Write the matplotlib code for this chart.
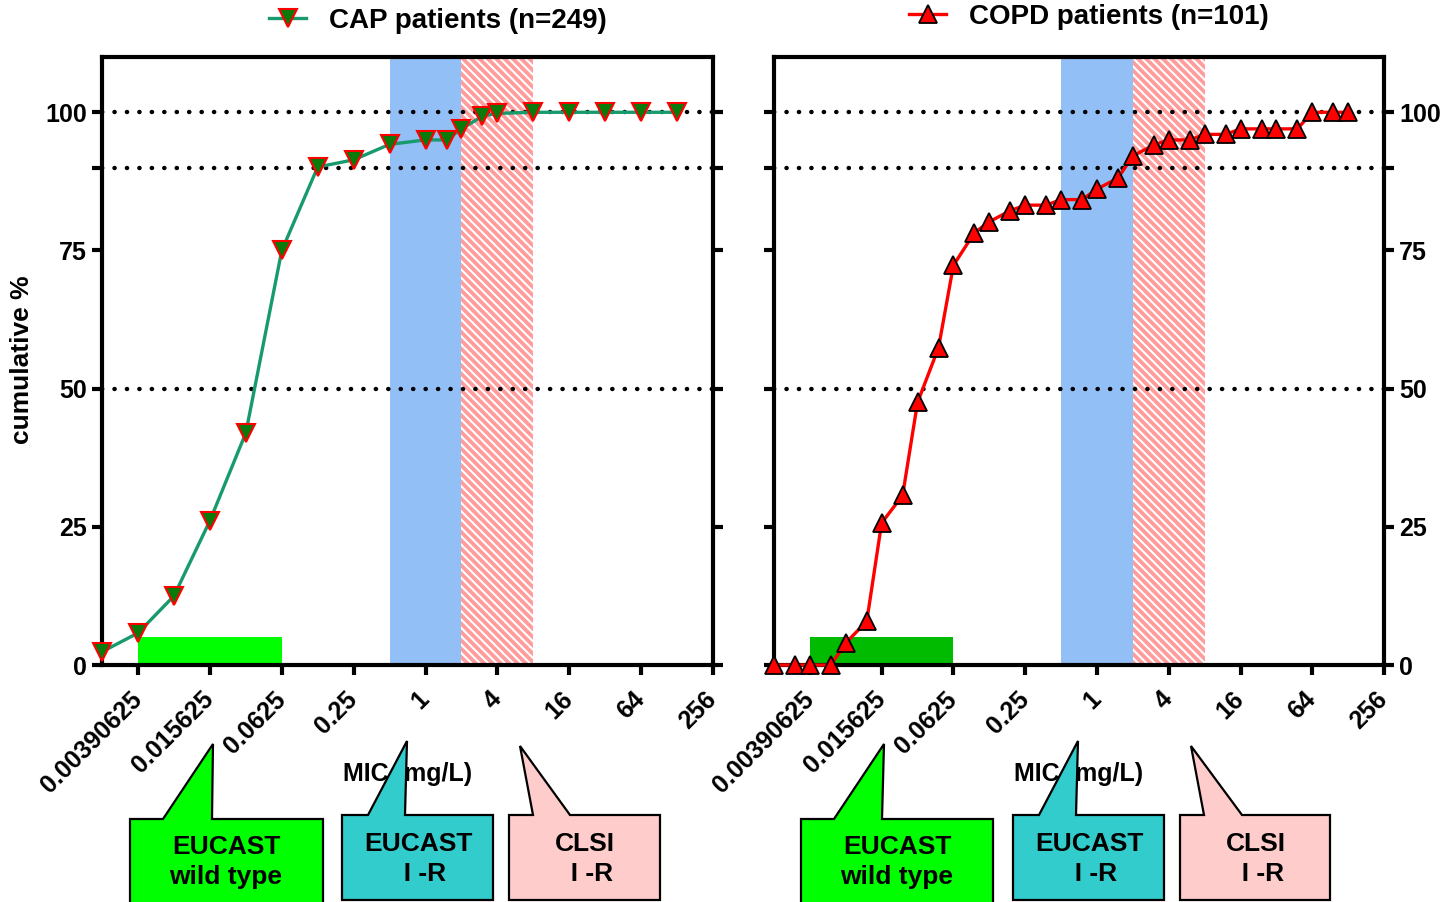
import matplotlib
matplotlib.use("Agg")
import matplotlib.pyplot as plt
from matplotlib.lines import Line2D
from matplotlib.patches import Polygon

plt.rcParams['font.family'] = ['Liberation Sans', 'DejaVu Sans']
plt.rcParams['font.weight'] = 'bold'
plt.rcParams['hatch.linewidth'] = 1.5

# data
cap_mic = [0.001953125, 0.00390625, 0.0078125, 0.015625, 0.03125, 0.0625, 0.125, 0.25,
           0.5, 1, 1.5, 2, 3, 4, 8, 16, 32, 64, 128]
cap_cum = [2.4, 5.8, 12.5, 26.1, 42.0, 75.0, 90.1, 91.4,
           94.2, 95.0, 95.0, 97.0, 99.3, 99.8, 100, 100, 100, 100, 100]

copd_mic = [0.001953125, 0.0029296875, 0.00390625, 0.005859375, 0.0078125, 0.01171875,
            0.015625, 0.0234375, 0.03125, 0.046875, 0.0625, 0.09375, 0.125, 0.1875,
            0.25, 0.375, 0.5, 0.75, 1, 1.5, 2, 3, 4, 6, 8, 12, 16, 24, 32, 48, 64, 96, 128]
copd_cum = [0, 0, 0, 0, 4.0, 7.9, 25.7, 30.7, 47.5, 57.4, 72.3, 78.2, 80.2, 82.2,
            83.2, 83.2, 84.2, 84.2, 86.1, 88.1, 92.1, 94.1, 95.0, 95.0, 96.0, 96.0,
            97.0, 97.0, 97.0, 97.0, 100, 100, 100]

xtick_vals = [0.00390625, 0.015625, 0.0625, 0.25, 1, 4, 16, 64, 256]
xtick_labels = ["0.00390625", "0.015625", "0.0625", "0.25", "1", "4", "16", "64", "256"]
ytick_vals = [0, 25, 50, 75, 90, 100]
ytick_labels = ["0", "25", "50", "75", "", "100"]
ref_lines = [50, 90, 100]

eucast_wt = (0.00390625, 0.0625)
wt_height = 5
eucast_ir = (0.5, 2)
clsi_ir = (2, 8)

fig = plt.figure(figsize=(14.54, 9.02), dpi=100)
ax1 = fig.add_axes([0.0702, 0.2627, 0.4202, 0.6741])
ax2 = fig.add_axes([0.5323, 0.2627, 0.4196, 0.6741])


def setup(ax, wt_color):
    ax.set_xscale('log', base=2)
    ax.set_xlim(2 ** -9, 2 ** 8)
    ax.set_ylim(0, 110)
    ax.axvspan(*eucast_ir, color='#93bff7', lw=0, zorder=0)
    ax.axvspan(*clsi_ir, facecolor='#ff9c9c', edgecolor='white', hatch='\\\\\\\\',
               lw=0, zorder=0)
    ax.fill_between(eucast_wt, 0, wt_height, color=wt_color, lw=0, zorder=1)
    for y in ref_lines:
        ax.axhline(y, color='black', lw=3.2, linestyle=(0, (0.05, 2.75)),
                   dash_capstyle='round', zorder=2)
    for s in ax.spines.values():
        s.set_linewidth(3)
    ax.set_xticks(xtick_vals)
    ax.set_xticklabels(xtick_labels, rotation=45, ha='right', va='center',
                       rotation_mode='anchor')
    ax.xaxis.set_minor_locator(matplotlib.ticker.NullLocator())
    ax.set_yticks(ytick_vals)
    ax.set_yticklabels(ytick_labels)
    ax.tick_params(axis='both', direction='out', length=7, width=3, labelsize=18)
    ax.tick_params(axis='x', pad=15)
    ax.tick_params(axis='y', left=True, right=True, pad=4)
    ax.text(0.5, -0.18, "MIC (mg/L)", transform=ax.transAxes, ha='center',
            va='center', fontsize=18)


setup(ax1, '#00ff00')
setup(ax2, '#00bb00')
ax1.tick_params(axis='y', labelleft=True, labelright=False)
ax2.tick_params(axis='y', labelleft=False, labelright=True)

ax1.plot(cap_mic, cap_cum, color='#179a6c', lw=2.4, marker='v', markersize=12.5,
         markerfacecolor='#0a7a0a', markeredgecolor='red', markeredgewidth=1.5,
         clip_on=False, zorder=5)
ax2.plot(copd_mic, copd_cum, color='red', lw=2.4, marker='^', markersize=12.5,
         markerfacecolor='red', markeredgecolor='black', markeredgewidth=1.3,
         clip_on=False, zorder=5)

fig.text(22 / 1454, 1 - 360 / 902, "cumulative %", rotation=90, ha='center',
         va='center', fontsize=19)

h1 = Line2D([], [], color='#179a6c', lw=2.4, marker='v', markersize=12.5,
            markerfacecolor='#0a7a0a', markeredgecolor='red', markeredgewidth=1.5)
h2 = Line2D([], [], color='red', lw=2.4, marker='^', markersize=12.5,
            markerfacecolor='red', markeredgecolor='black', markeredgewidth=1.3)
fig.legend([h1], ["CAP patients (n=249)"], loc='center left',
           bbox_to_anchor=(255 / 1454, 1 - 21 / 902), frameon=False, fontsize=20,
           borderpad=0, handlelength=1.35, handletextpad=0.8)
fig.legend([h2], ["COPD patients (n=101)"], loc='center left',
           bbox_to_anchor=(895 / 1454, 1 - 17 / 902), frameon=False, fontsize=20,
           borderpad=0, handlelength=1.35, handletextpad=0.8)

# callout bubbles drawn in pixel space
ov = fig.add_axes([0, 0, 1, 1], zorder=10)
ov.set_xlim(0, 1454)
ov.set_ylim(902, 0)
ov.axis('off')


def callout(left, right, top, bottom, base1, base2, tip, color, text, tx, ty):
    pts = [(left, top), (base1, top), tip, (base2, top), (right, top),
           (right, bottom), (left, bottom)]
    ov.add_patch(Polygon(pts, closed=True, facecolor=color, edgecolor='black', lw=1.6))
    ov.text(tx, ty, text, ha='center', va='center', fontsize=19,
            multialignment='center', linespacing=1.3)


callout(130, 323, 819, 910, 163, 212, (213, 744), '#00ff00', "EUCAST\nwild type", 226, 862)
callout(342, 493, 815, 900, 368, 405, (407, 741), '#33cccc', "EUCAST\n  I -R", 418, 859)
callout(509, 660, 815, 900, 533, 570, (520, 746), '#ffcccc', "CLSI\n  I -R", 585, 859)

callout(801, 993, 819, 910, 834, 882, (884, 744), '#00ff00', "EUCAST\nwild type", 897, 862)
callout(1013, 1164, 815, 900, 1039, 1076, (1078, 741), '#33cccc', "EUCAST\n  I -R", 1089, 859)
callout(1180, 1330, 815, 900, 1204, 1242, (1191, 746), '#ffcccc', "CLSI\n  I -R", 1256, 859)

fig.savefig("out.png", dpi=100)
